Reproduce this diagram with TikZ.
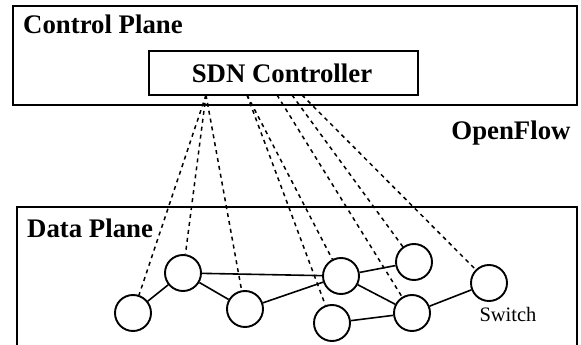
\documentclass[tikz,border=0pt]{standalone}
\usepackage{fontspec}
\setmainfont{Liberation Serif}
\begin{document}
\begin{tikzpicture}[x=1pt,y=-1pt,
  plane/.style={draw,line width=1.5pt},
  sw/.style={circle,draw,line width=1.9pt,minimum size=36pt,inner sep=0pt},
  link/.style={line width=1.6pt},
  ctl/.style={line width=1.5pt,dash pattern=on 4pt off 4pt},
  title/.style={font=\fontsize{26.8}{28}\selectfont\bfseries,inner sep=0pt}]
\useasboundingbox (0,0) rectangle (581,345);
\clip (0,0) rectangle (581,345);
% control plane
\draw[plane] (13,6) rectangle (577,105);
\node[title,anchor=west] (cp) at (23,24) {Control Plane};
\node[plane,minimum width=269pt,minimum height=44pt,inner sep=0pt] (sdn) at (283.5,73) {};
\node[title] (sdnt) at (282,73) {SDN Controller};
\node[title] (of) at (511,133) {OpenFlow};
% data plane
\draw[plane] (17,360) -- (17,207) -- (577,207) -- (577,360);
\node[title,anchor=west] (dp) at (27,228) {Data Plane};
% switches
\node[sw] (n1) at (133,313) {};
\node[sw] (n2) at (183,273) {};
\node[sw] (n3) at (245,309) {};
\node[sw] (n4) at (341,276) {};
\node[sw] (n5) at (414,262) {};
\node[sw] (n6) at (332,323) {};
\node[sw] (n7) at (412,313) {};
\node[sw] (n8) at (489,283) {};
\node[font=\fontsize{20.5}{22}\selectfont,inner sep=0pt] (swl) at (508,314) {Switch};
% links
\draw[link] (n1) -- (n2);
\draw[link] (n2) -- (n3);
\draw[link] (n2) -- (n4);
\draw[link] (n3) -- (n4);
\draw[link] (n4) -- (n5);
\draw[link] (n4) -- (n7);
\draw[link] (n6) -- (n7);
\draw[link] (n7) -- (n8);
% control connections
\coordinate (a) at (206,95);
\coordinate (b) at (247,95);
\coordinate (c) at (277,95);
\coordinate (d) at (292,95);
\coordinate (e) at (302,95);
\draw[ctl] (a) -- (n1);
\draw[ctl] (a) -- (n2);
\draw[ctl] (a) -- (n3);
\draw[ctl] (b) -- (n6);
\draw[ctl] (b) -- (n4);
\draw[ctl] (c) -- (n7);
\draw[ctl] (d) -- (n5);
\draw[ctl] (e) -- (n8);
\end{tikzpicture}
\end{document}
